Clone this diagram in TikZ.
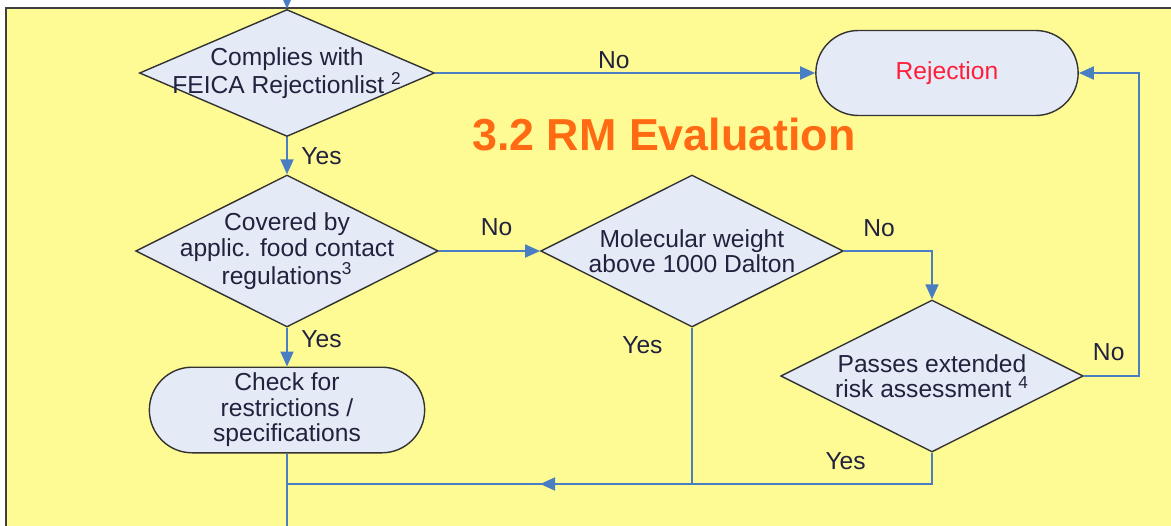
\documentclass[tikz,border=0pt]{standalone}
\usepackage{fontspec}
\setmainfont{Liberation Sans}
\usetikzlibrary{shapes.geometric, shapes.misc, positioning}
\usetikzlibrary{arrows.meta, decorations.markings}

\definecolor{paper}{HTML}{FFFB94}
\definecolor{boxfill}{HTML}{E5EBF6}
\definecolor{flowblue}{HTML}{4A7EC2}
\definecolor{ink}{HTML}{22223F}
\definecolor{rejectred}{HTML}{FF1E3C}
\definecolor{headline}{HTML}{FF6A12}

\begin{document}
\begin{tikzpicture}[font = \fontsize{14}{14.5}\selectfont, text=ink,
    odecision/.style={diamond, aspect=2, draw, black!80, fill=boxfill, text=ink, inner sep=-0.35cm, minimum width=6.05cm, minimum height=3.04cm, align=center, line width=0.8pt},
    oterminal/.style={rounded rectangle, draw, black!80, fill=boxfill, text=ink, minimum width=5.74cm, minimum height=1.64cm, align=center, line width=0.8pt},
    link/.style={flowblue, line width=1.1pt},
    arrow/.style={flowblue, line width=1.1pt, -{Triangle[length=3mm, width=2.6mm]}},
    midarrow/.style={decoration={markings, mark=at position 0.375 with {\arrow{Triangle[length=3mm, width=2.6mm]}}}, postaction={decorate}},
    lbl/.style={text=ink, inner sep=2pt},
    ]

    % frame
    \useasboundingbox (-5.74,1.46) rectangle (17.68,-9.04);
    \draw[fill=paper, draw=black!75, line width=1.4pt] (-5.62,1.3) rectangle (18.2,-9.5);

    \coordinate (entry) at (0,1.46);
    \coordinate (join) at (0,-8.22);
    \coordinate (exit) at (0,-9.1);

    \node(comply)[odecision, minimum width=5.9cm, minimum height=2.54cm]{Complies with\\FEICA Rejectionlist \textsuperscript{2}};
    \node(covered)[odecision, below of = comply, node distance=3.56cm]{Covered by\\applic. food contact\\regulations\textsuperscript{3}};
    \node(molw)[odecision, right of = covered, node distance=8.1cm]{Molecular weight\\above 1000 Dalton};
    \node(riskass)[odecision] at (12.9,-6.06){Passes extended\\risk assessment \textsuperscript{4}};
    \node(reject)[oterminal, right of = comply, node distance=13.2cm, minimum width=5.48cm, minimum height=1.7cm, text=rejectred]{Rejection};
    \node(check)[oterminal, below of = covered, node distance=3.18cm]{Check for\\restrictions /\\specifications};
    \node(title)[font=\fontsize{25.5}{28}\selectfont\bfseries, text=headline] at (7.54,-1.24){3.2 RM Evaluation};

    \draw[arrow](entry) -- (comply.north);
    \draw[arrow](comply.east) -- (reject.west) node[lbl, above, pos=0.47]{No};
    \draw[arrow](comply.south) -- (covered.north) node[lbl, right, pos=0.5, xshift=0.2cm]{Yes};
    \draw[arrow](covered.east) -- (molw.west) node[lbl, above, pos=0.57, yshift=0.22cm]{No};
    \draw[arrow](covered.south) -- (check.north) node[lbl, right, pos=0.3, xshift=0.2cm]{Yes};
    \draw[arrow](molw.east) -| (riskass.north) node[lbl, above, pos=0.2, yshift=0.2cm]{No};
    \draw[arrow](riskass.east) -- ++(1.1,0) node[lbl, above, pos=0.45, yshift=0.22cm]{No} |- (reject.east);

    \draw[link](molw.south) -- (molw |- join) node[lbl, left, pos=0.11, xshift=-0.5cm]{Yes};
    \draw[link](riskass.south) |- (molw |- join) node[lbl, above, pos=0.68, yshift=0.2cm]{Yes};
    \draw[link, midarrow](molw |- join) -- (join);
    \draw[link](check.south) -- (exit);

\end{tikzpicture}
\end{document}
